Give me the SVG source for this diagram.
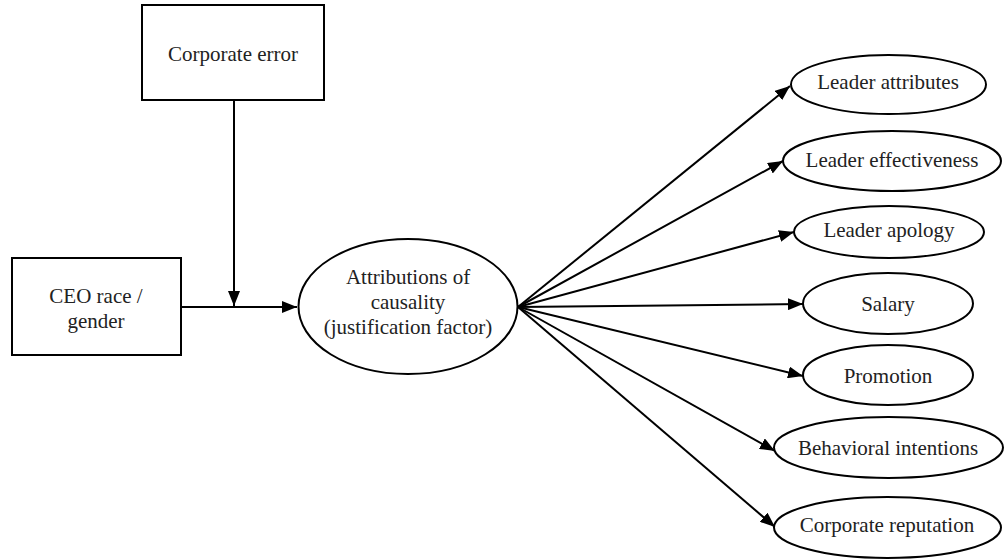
<svg xmlns="http://www.w3.org/2000/svg" width="1004" height="559" viewBox="0 0 1004 559">
<style>
.box{fill:#fff;stroke:#000;stroke-width:2}
.t{font-family:'Liberation Serif','Times New Roman','DejaVu Serif',serif;font-size:21px;fill:#222;text-anchor:middle;dominant-baseline:central}
.c{fill:none;stroke:#000;stroke-width:2}
</style>
<defs>
<marker id="ah" markerUnits="userSpaceOnUse" markerWidth="16" markerHeight="12" refX="15" refY="6" orient="auto">
<path d="M0,0 L15,6 L0,12 Z" fill="#000"/>
</marker>
</defs>
<rect width="1004" height="559" fill="#fff"/>
<g id="connectors">
<line class="c" x1="234" y1="100" x2="234" y2="306" marker-end="url(#ah)"/>
<line class="c" x1="181" y1="307" x2="297" y2="307" marker-end="url(#ah)"/>
<line class="c" x1="518" y1="307" x2="790" y2="86" marker-end="url(#ah)"/>
<line class="c" x1="518" y1="307" x2="783" y2="161" marker-end="url(#ah)"/>
<line class="c" x1="518" y1="307" x2="794" y2="232" marker-end="url(#ah)"/>
<line class="c" x1="518" y1="307" x2="803" y2="304" marker-end="url(#ah)"/>
<line class="c" x1="518" y1="307" x2="803" y2="376" marker-end="url(#ah)"/>
<line class="c" x1="518" y1="307" x2="775" y2="451" marker-end="url(#ah)"/>
<line class="c" x1="518" y1="307" x2="775" y2="527" marker-end="url(#ah)"/>
</g>
<g id="corporate-error">
<rect class="box" x="142" y="5" width="182" height="95"/>
<text class="t" x="233" y="54">Corporate error</text>
</g>
<g id="ceo">
<rect class="box" x="12" y="258" width="169" height="97"/>
<text class="t" x="96" y="296">CEO race /</text>
<text class="t" x="96" y="321">gender</text>
</g>
<g id="attributions">
<ellipse class="box" cx="408" cy="306.5" rx="109.5" ry="67.5"/>
<text class="t" x="408" y="277">Attributions of</text>
<text class="t" x="408" y="302">causality</text>
<text class="t" x="408" y="327">(justification factor)</text>
</g>
<g id="leader-attributes">
<ellipse class="box" cx="888.5" cy="84.5" rx="97.5" ry="29.5"/>
<text class="t" x="888" y="82">Leader attributes</text>
</g>
<g id="leader-effectiveness">
<ellipse class="box" cx="892" cy="161" rx="109" ry="30"/>
<text class="t" x="892" y="160">Leader effectiveness</text>
</g>
<g id="leader-apology">
<ellipse class="box" cx="889" cy="232" rx="95" ry="26"/>
<text class="t" x="889" y="230">Leader apology</text>
</g>
<g id="salary">
<ellipse class="box" cx="888" cy="303.5" rx="85" ry="30.5"/>
<text class="t" x="888" y="304">Salary</text>
</g>
<g id="promotion">
<ellipse class="box" cx="888" cy="375" rx="85" ry="30"/>
<text class="t" x="888" y="376">Promotion</text>
</g>
<g id="behavioral-intentions">
<ellipse class="box" cx="888.5" cy="447.5" rx="114.5" ry="30.5"/>
<text class="t" x="888" y="448">Behavioral intentions</text>
</g>
<g id="corporate-reputation">
<ellipse class="box" cx="887.5" cy="527.5" rx="113.5" ry="30.5"/>
<text class="t" x="887" y="525">Corporate reputation</text>
</g>
</svg>
